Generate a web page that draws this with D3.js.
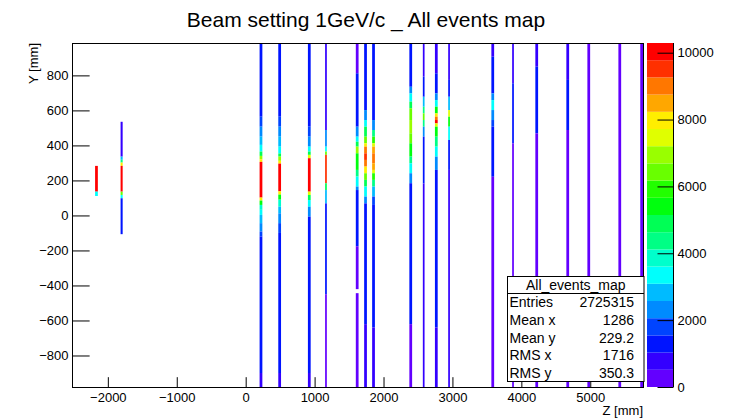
<!DOCTYPE html>
<html><head><meta charset="utf-8">
<script src="https://cdn.jsdelivr.net/npm/d3@7"></script>
<style>
body{margin:0;background:#fff}
svg{display:block}
text{font-family:"Liberation Sans",Arial,Helvetica,sans-serif;fill:#000}
</style>
</head><body>
<svg id="chart" width="731" height="419"></svg>
<script>
// ---------- data ----------
const chartTitle = "Beam setting 1GeV/c _ All events map";
const xLabel = "Z [mm]";
const yLabel = "Y [mm]";
const xDomain = [-2520, 5765];
const yDomain = [-980, 985];
const xTickValues = [-2000, -1000, 0, 1000, 2000, 3000, 4000, 5000];
const yTickValues = [-800, -600, -400, -200, 0, 200, 400, 600, 800];
const zMax = 10290;
const nContours = 20;
const zTickValues = [0, 2000, 4000, 6000, 8000, 10000];

// z position (mm) of each filled column of bins
const columnZ = [-2165, -1800, 222, 493, 923, 1165, 1618, 1739, 1855, 2395, 2583, 2766, 2951, 3585, 3879, 4223, 4673, 4978, 5428, 5745];
// bin width along z (mm)
const columnWidth = [40, 30, 40, 40, 40, 25, 40, 40, 40, 40, 25, 40, 25, 40, 25, 40, 40, 40, 40, 40];
// runs of bins along y for each column: [yTop, yBottom, counts]
const columnRuns = [
  [[283,136,10000],[136,111,3350]],
  [[535,336,1000],[336,318,2800],[318,302,4300],[302,283,7950],[283,136,10000],[136,117,6400],[117,98,3350],[98,-107,1300]],
  [[983,564,1300],[564,507,1800],[507,450,2300],[450,403,2800],[403,365,3350],[365,340,5000],[340,321,7000],[321,306,8000],[306,102,10000],[102,85,8000],[85,60,5400],[60,32,3850],[32,3,3350],[3,-44,2800],[-44,-92,2300],[-92,-120,1800],[-120,-900,1300],[-900,-980,700]],
  [[983,564,1300],[564,507,1800],[507,450,2300],[450,393,2800],[393,354,3350],[354,336,5000],[336,312,7000],[312,296,8000],[296,138,10000],[138,119,8000],[119,90,5400],[90,50,3850],[50,12,2800],[12,-44,2300],[-44,-100,1800],[-100,-900,1300],[-900,-980,700]],
  [[983,507,1300],[507,450,1800],[450,393,2500],[393,365,3350],[365,346,5000],[346,327,7500],[327,136,10000],[136,117,7500],[117,88,5000],[88,50,3350],[50,-7,2300],[-7,-900,1300],[-900,-980,700]],
  [[983,488,1000],[488,393,2300],[393,365,3350],[365,346,6400],[346,184,9500],[184,145,5000],[145,69,3000],[69,-450,1300],[-450,-980,400]],
  [[983,812,400],[812,507,1300],[507,450,2300],[450,421,3350],[421,393,5000],[393,355,7000],[355,260,5400],[260,222,4300],[222,165,3350],[165,145,2300],[145,-176,1300],[-176,-421,400],[-444,-980,400]],
  [[983,602,1300],[602,545,2300],[545,507,3350],[507,450,5000],[450,412,6400],[412,393,7950],[393,355,9000],[355,317,9500],[317,279,9000],[279,241,7950],[241,203,6400],[203,165,5000],[165,108,3350],[108,69,2300],[69,-621,1300],[-621,-980,700]],
  [[983,545,1300],[545,488,2300],[488,450,4300],[450,412,5900],[412,393,7450],[393,355,8500],[355,298,9000],[298,260,8500],[260,241,7450],[241,203,5900],[203,165,4300],[165,108,2800],[108,60,1800],[60,-640,1300],[-640,-980,600]],
  [[983,735,1300],[735,697,2300],[697,650,3350],[650,612,5000],[612,545,6400],[545,469,7000],[469,412,6400],[412,336,5400],[336,298,4300],[298,241,3350],[241,184,2300],[184,-621,1300],[-621,-980,500]],
  [[983,793,700],[793,678,1300],[678,621,2800],[621,583,4300],[583,545,6400],[545,507,4300],[507,450,2300],[450,183,1300],[183,-980,700]],
  [[983,812,1000],[812,697,1300],[697,659,2300],[659,621,3350],[621,583,5400],[583,564,7950],[564,545,9000],[545,526,10000],[526,507,7450],[507,450,5400],[450,393,4300],[393,336,3350],[336,260,2300],[260,-640,1300],[-640,-980,600]],
  [[983,774,700],[774,678,1300],[678,602,2800],[602,564,7450],[564,507,5400],[507,431,3350],[431,260,1300],[260,-980,700]],
  [[983,907,700],[907,697,1300],[697,659,2300],[659,602,3350],[602,545,2300],[545,507,1800],[507,221,1300],[221,-980,500]],
  [[983,755,600],[755,412,1300],[412,-980,500]],
  [[983,850,700],[850,469,1300],[469,-980,500]],
  [[983,774,700],[774,488,1300],[488,-980,500]],
  [[983,-980,400]],
  [[983,-980,400]],
  [[983,-980,400]]
];

const statsTitle = "All_events_map";
const statsLabels = ["Entries", "Mean x", "Mean y", "RMS x", "RMS y"];
const statsValues = ["2725315", "1286", "229.2", "1716", "350.3"];

// ---------- layout ----------
const W = 731, H = 419;
const frame = {left: 72, right: 643, top: 43, bottom: 387};
const pal = {left: 647, right: 673};

const svg = d3.select("#chart");
const x = d3.scaleLinear().domain(xDomain).range([frame.left, frame.right]);
const y = d3.scaleLinear().domain(yDomain).range([frame.bottom, frame.top]);
const zScale = d3.scaleLinear().domain([0, zMax]).range([frame.bottom, frame.top]);
const step = zMax / nContours;

// ROOT "pretty" rainbow palette (50 colours) sampled for 20 contours
function contourIndex(v) { return Math.max(0, Math.min(nContours - 1, Math.floor(v / step))); }
function contourColor(k) {
  const j = Math.floor((k + 0.99) * 50 / nContours);
  const hue = 280 - (j + 1) * (280 / 50);
  return d3.hsl(hue, 1, 0.5).formatHex();
}

// frame
svg.append("rect").attr("x", frame.left + 0.5).attr("y", frame.top + 0.5)
  .attr("width", frame.right - frame.left).attr("height", frame.bottom - frame.top)
  .attr("fill", "#fff").attr("stroke", "#000").attr("stroke-width", 1);

// histogram cells
const cells = svg.append("g");
columnZ.forEach((z, i) => {
  const w = columnWidth[i];
  columnRuns[i].forEach(r => {
    if (r[2] <= 0) return;
    const y0 = y(r[0]), y1 = y(r[1]);
    cells.append("rect")
      .attr("x", x(z - w / 2)).attr("width", x(z + w / 2) - x(z - w / 2))
      .attr("y", y0).attr("height", y1 - y0)
      .attr("fill", contourColor(contourIndex(r[2])))
      .attr("stroke", "none");
  });
});

// top border on top of cells
svg.append("line").attr("x1", frame.left).attr("x2", frame.right)
  .attr("y1", frame.top + 0.5).attr("y2", frame.top + 0.5).attr("stroke", "#000");

// axes
const xMajLen = 0.03 * (frame.bottom - frame.top);
const yMajLen = 0.03 * (frame.right - frame.left);
const xMinor = d3.range(-2400, 5700, 200).filter(v => v % 1000 !== 0);
const yMinor = d3.range(-950, 951, 50).filter(v => v % 200 !== 0);

const gx = svg.append("g").attr("transform", `translate(0,${frame.bottom + 0.5})`);
gx.call(d3.axisBottom(x).tickValues(xMinor).tickSize(-xMajLen / 2).tickSizeOuter(0).tickFormat(""));
gx.call(d3.axisBottom(x).tickValues(xTickValues).tickSize(-xMajLen).tickSizeOuter(0).tickPadding(5.5)
  .tickFormat(d => d < 0 ? "\u2212" + Math.abs(d) : String(d)));
gx.selectAll("path.domain").attr("stroke", "#000").attr("d", `M${frame.left},0H${frame.right}`);
gx.selectAll("text").attr("font-size", 13).attr("font-family", null);
gx.selectAll("line").attr("stroke", "#000");

const gy = svg.append("g").attr("transform", `translate(${frame.left + 0.5},0)`);
gy.call(d3.axisLeft(y).tickValues(yMinor).tickSize(-yMajLen / 2).tickSizeOuter(0).tickFormat(""));
gy.call(d3.axisLeft(y).tickValues(yTickValues).tickSize(-yMajLen).tickSizeOuter(0).tickPadding(4)
  .tickFormat(d => d < 0 ? "\u2212" + Math.abs(d) : String(d)));
gy.selectAll("path.domain").attr("stroke", "#000").attr("d", `M0,${frame.top}V${frame.bottom}`);
gy.selectAll("text").attr("font-size", 13).attr("font-family", null);
gy.selectAll("line").attr("stroke", "#000");

// palette
const palG = svg.append("g");
d3.range(nContours).forEach(k => {
  const y0 = zScale((k + 1) * step), y1 = zScale(k * step);
  palG.append("rect").attr("x", pal.left).attr("width", pal.right - pal.left)
    .attr("y", y0).attr("height", y1 - y0).attr("fill", contourColor(k));
});
const gz = svg.append("g").attr("transform", `translate(${pal.right + 0.5},0)`);
gz.call(d3.axisRight(zScale).tickValues(zTickValues).tickSize(-16).tickSizeOuter(0).tickPadding(4)
  .tickFormat(d3.format("d")));
gz.selectAll("path.domain").attr("stroke", "#000").attr("d", `M0,${frame.top}V${frame.bottom}`);
gz.selectAll("text").attr("font-size", 13).attr("font-family", null);
gz.selectAll("line").attr("stroke", "#000");

// titles
svg.append("text").attr("x", 366).attr("y", 27).attr("text-anchor", "middle")
  .attr("font-size", 21).text(chartTitle);
svg.append("text").attr("x", frame.right).attr("y", 415).attr("text-anchor", "end")
  .attr("font-size", 13).text(xLabel);
svg.append("text").attr("transform", `translate(38,${frame.top}) rotate(-90)`)
  .attr("text-anchor", "end").attr("font-size", 13).text(yLabel);

// stats box
const sb = {left: 507.5, top: 276.5, right: 644, bottom: 381.5, sep: 293.5};
svg.append("rect").attr("x", sb.left).attr("y", sb.top)
  .attr("width", sb.right - sb.left).attr("height", sb.bottom - sb.top)
  .attr("fill", "#fff").attr("stroke", "#000");
svg.append("line").attr("x1", sb.left).attr("x2", sb.right).attr("y1", sb.sep).attr("y2", sb.sep).attr("stroke", "#000");
svg.append("text").attr("x", (sb.left + sb.right) / 2).attr("y", (sb.top + sb.sep) / 2).attr("dy", "0.36em")
  .attr("text-anchor", "middle").attr("font-size", 14).text(statsTitle);
const rowH = (sb.bottom - sb.sep) / statsLabels.length;
statsLabels.forEach((lab, i) => {
  const cy = sb.sep + rowH * (i + 0.5);
  svg.append("text").attr("x", sb.left + 2).attr("y", cy).attr("dy", "0.36em")
    .attr("font-size", 14).text(lab);
  svg.append("text").attr("x", sb.right - 10).attr("y", cy).attr("dy", "0.36em")
    .attr("text-anchor", "end").attr("font-size", 14).text(statsValues[i]);
});
</script>
</body></html>
